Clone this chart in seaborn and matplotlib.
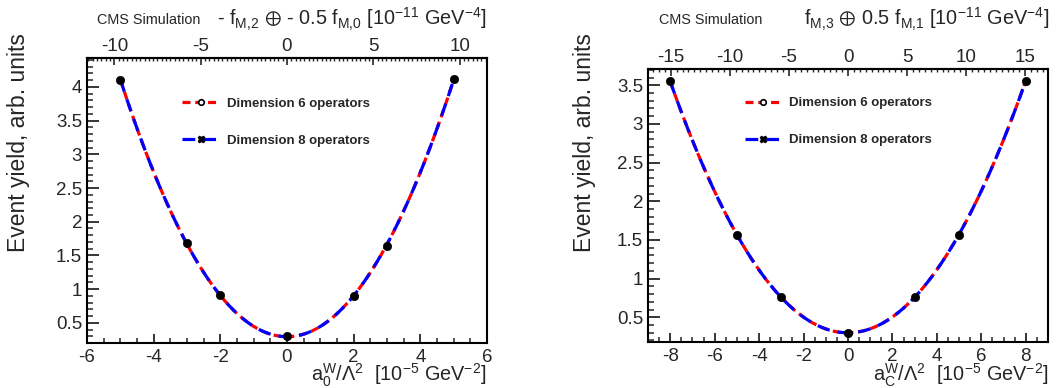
import numpy as np
import pandas as pd
import matplotlib
matplotlib.use("Agg")
import matplotlib.pyplot as plt
from matplotlib.lines import Line2D
from matplotlib.ticker import MultipleLocator, FuncFormatter
import seaborn as sns

# left panel: a0W / Lambda^2
a0_x = [-5, -3, -2, 0, 2, 3, 5]
a0_dim6 = [4.10, 1.68, 0.91, 0.30, 0.90, 1.64, 4.12]
a0_dim8 = [4.10, 1.68, 0.91, 0.30, 0.90, 1.64, 4.12]

# right panel: aCW / Lambda^2
ac_x = [-8, -5, -3, 0, 3, 5, 8]
ac_dim6 = [3.55, 1.56, 0.76, 0.30, 0.76, 1.57, 3.56]
ac_dim8 = [3.55, 1.56, 0.76, 0.30, 0.76, 1.57, 3.56]

top_titles = [r"- f$_{M{,}2}$ $\oplus$ - 0.5 f$_{M{,}0}$ [10$^{-11}$ GeV$^{-4}$]",
              r"f$_{M{,}3}$ $\oplus$ 0.5 f$_{M{,}1}$ [10$^{-11}$ GeV$^{-4}$]"]
bottom_titles = [r"a$_{0}^{W}$/$\Lambda^{2}$  [10$^{-5}$ GeV$^{-2}$]",
                 r"a$_{C}^{W}$/$\Lambda^{2}$  [10$^{-5}$ GeV$^{-2}$]"]
ylabel = "Event yield, arb. units"
leg_labels = ["Dimension 6 operators", "Dimension 8 operators"]

sns.set_style("ticks")
plt.rcParams["font.family"] = ["Liberation Sans", "DejaVu Sans"]
plt.rcParams["mathtext.fontset"] = "custom"
plt.rcParams["mathtext.rm"] = "Liberation Sans"
plt.rcParams["mathtext.it"] = "Liberation Sans:italic"
plt.rcParams["mathtext.default"] = "regular"

W, H = 1058, 388
fig = plt.figure(figsize=(W / 100, H / 100), dpi=100)
fmt = FuncFormatter(lambda v, p: f"{v:g}")


def px_axes(l, t, r, b):
    return fig.add_axes([l / W, 1 - b / H, (r - l) / W, (b - t) / H])


def fit_curve(x, y):
    c = np.polyfit(x, y, 2)
    g = np.linspace(min(x), max(x), 300)
    return g, np.polyval(c, g)


def panel(ax, x, d6, d8, xlim, ylim, factor, top_minor):
    gx, gy = fit_curve(x, d6)
    sns.lineplot(x=gx, y=gy, ax=ax, color="#ff0000", lw=2.3,
                 linestyle=(0, (2.5, 1.5)), zorder=2)
    gx, gy = fit_curve(x, d8)
    sns.lineplot(x=gx, y=gy, ax=ax, color="#0000ff", lw=2.3,
                 linestyle=(0, (4, 2.5)), zorder=3)
    sns.scatterplot(x=x, y=d8, ax=ax, color="black", s=36,
                    edgecolor="black", zorder=4)
    ax.set_xlim(*xlim)
    ax.set_ylim(*ylim)
    ax.xaxis.set_major_locator(MultipleLocator(2))
    ax.xaxis.set_minor_locator(MultipleLocator(0.5))
    ax.yaxis.set_major_locator(MultipleLocator(0.5))
    ax.yaxis.set_minor_locator(MultipleLocator(0.1))
    ax.tick_params(axis="x", which="major", direction="in", length=6.5, width=1.3,
                   labelsize=13.5, pad=4)
    ax.tick_params(axis="x", which="minor", direction="in", length=3.3, width=1.1)
    ax.tick_params(axis="y", which="major", direction="in", length=8.5, width=1.3,
                   labelsize=13.5, pad=3.5)
    ax.tick_params(axis="y", which="minor", direction="in", length=4, width=1.1)
    ax.xaxis.set_major_formatter(fmt)
    ax.yaxis.set_major_formatter(fmt)
    for s in ax.spines.values():
        s.set_linewidth(1.5)
        s.set_color("black")
    sec = ax.secondary_xaxis("top", functions=(lambda v: v * factor, lambda v: v / factor))
    sec.xaxis.set_major_locator(MultipleLocator(5))
    sec.xaxis.set_minor_locator(MultipleLocator(top_minor))
    sec.tick_params(which="major", direction="in", length=5, width=1.2,
                    labelsize=13.5, pad=2.5)
    sec.tick_params(which="minor", direction="in", length=2.5, width=1)
    sec.xaxis.set_major_formatter(fmt)
    sec.spines["top"].set_linewidth(1.5)

    h6 = Line2D([], [], color="#ff0000", lw=2.3, linestyle=(0, (2.5, 1.5)),
                marker="o", markersize=4, markerfacecolor="white",
                markeredgecolor="black", markeredgewidth=1.2)
    h8 = Line2D([], [], color="#0000ff", lw=2.3, linestyle=(0, (4, 2.5)),
                marker="X", markersize=5, markerfacecolor="black",
                markeredgecolor="black")
    return h6, h8


leg_kw = dict(loc="upper left", frameon=False, borderpad=0, handlelength=2.8,
              handletextpad=0.6, labelspacing=1.9, prop={"weight": "bold", "size": 9.5})

ax1 = px_axes(87, 58, 487, 343)
hs = panel(ax1, a0_x, a0_dim6, a0_dim8, (-6, 6), (0.2, 4.43), 1.93, 0.25)
ax1.legend(hs, leg_labels, bbox_to_anchor=(0.222, 0.885), **leg_kw)

ax2 = px_axes(648, 69, 1048, 342)
hs = panel(ax2, ac_x, ac_dim6, ac_dim8, (-9, 9), (0.18, 3.71), 1.88, 0.5)
ax2.legend(hs, leg_labels, bbox_to_anchor=(0.225, 0.922), **leg_kw)

# titles and labels in figure pixels
fig.text(97 / W, 1 - 20 / H, "CMS Simulation", fontsize=10.4, va="center", ha="left")
fig.text(659 / W, 1 - 20 / H, "CMS Simulation", fontsize=10.4, va="center", ha="left")
fig.text(487 / W, 1 - 19 / H, top_titles[0], fontsize=14.3, va="center", ha="right")
fig.text(1049 / W, 1 - 19 / H, top_titles[1], fontsize=14.3, va="center", ha="right")
fig.text(487 / W, 1 - 375 / H, bottom_titles[0], fontsize=14.3, va="center", ha="right")
fig.text(1049 / W, 1 - 375 / H, bottom_titles[1], fontsize=14.3, va="center", ha="right")
fig.text(19 / W, 1 - 33 / H, ylabel, fontsize=16.5, rotation=90, va="top", ha="center")
fig.text(584 / W, 1 - 33 / H, ylabel, fontsize=16.5, rotation=90, va="top", ha="center")

fig.savefig("out.png", dpi=100, facecolor="white")
